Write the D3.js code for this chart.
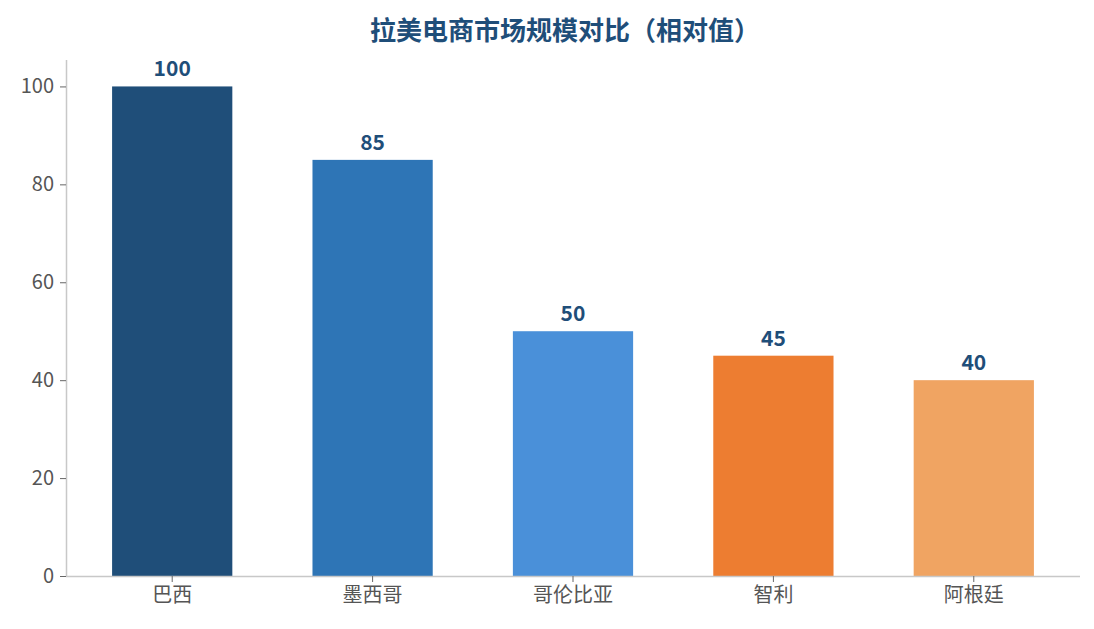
<!DOCTYPE html>
<html>
<head>
<meta charset="utf-8">
<script src="https://cdn.jsdelivr.net/npm/d3@7"></script>
<style>
  body { margin: 0; background: #fff; }
  text { font-family: "Noto Sans CJK SC", "Noto Sans", sans-serif; }
</style>
</head>
<body>
<div id="chart"></div>
<script>
var countries = ["巴西", "墨西哥", "哥伦比亚", "智利", "阿根廷"];
var values = [100, 85, 50, 45, 40];
var barColors = ["#1f4e79", "#2e75b6", "#4a90d9", "#ed7d31", "#f0a462"];
var yTicks = [0, 20, 40, 60, 80, 100];

var svgWidth = 1094;
var svgHeight = 629;
var margin = { top: 60, right: 14, bottom: 53, left: 66 };
var width = svgWidth - margin.left - margin.right;
var height = svgHeight - margin.top - margin.bottom;

var svg = d3.select("#chart").append("svg")
    .attr("width", svgWidth)
    .attr("height", svgHeight);

var chartGroup = svg.append("g")
    .attr("transform", `translate(${margin.left},${margin.top})`);

var data = countries.map((c, i) => ({ name: c, value: values[i], color: barColors[i] }));

var xScale = d3.scaleBand()
    .domain(countries)
    .range([0, width])
    .paddingInner(0.4)
    .paddingOuter(0.23);

var yScale = d3.scaleLinear()
    .domain([0, 105.4])
    .range([height, 0]);

// bars
chartGroup.selectAll("rect.bar")
    .data(data)
    .enter()
    .append("rect")
    .attr("class", "bar")
    .attr("x", d => xScale(d.name))
    .attr("y", d => yScale(d.value))
    .attr("width", xScale.bandwidth())
    .attr("height", d => height - yScale(d.value))
    .attr("fill", d => d.color);

// value labels
chartGroup.selectAll("text.val")
    .data(data)
    .enter()
    .append("text")
    .attr("class", "val")
    .attr("x", d => xScale(d.name) + xScale.bandwidth() / 2)
    .attr("y", d => yScale(d.value) - 10)
    .attr("text-anchor", "middle")
    .attr("font-size", "21px")
    .attr("font-weight", "bold")
    .attr("fill", "#1f4e79")
    .text(d => d.value);

// axes
var leftAxis = d3.axisLeft(yScale).tickValues(yTicks).tickSize(6).tickPadding(6);
var bottomAxis = d3.axisBottom(xScale).tickSize(6).tickPadding(6);

var yAxisG = chartGroup.append("g").call(leftAxis);
var xAxisG = chartGroup.append("g")
    .attr("transform", `translate(0,${height})`)
    .call(bottomAxis);

[yAxisG, xAxisG].forEach(function(g) {
    g.select(".domain").attr("stroke", "#c8c8c8").attr("stroke-width", 1.5);
    g.selectAll(".tick line").attr("stroke", "#666");
    g.selectAll(".tick text")
        .attr("fill", "#555")
        .attr("font-size", "20px")
        .style("font-family", '"Noto Sans CJK SC", "Noto Sans", sans-serif');
});
// domain line without outer ticks
yAxisG.select(".domain").attr("d", `M0.5,0V${height}`);
xAxisG.select(".domain").attr("d", `M0,0.5H${width}`);

// title
svg.append("text")
    .attr("x", 565)
    .attr("y", 40)
    .attr("text-anchor", "middle")
    .attr("font-size", "26px")
    .attr("font-weight", "bold")
    .attr("fill", "#1f4e79")
    .text("拉美电商市场规模对比（相对值）");
</script>
</body>
</html>
